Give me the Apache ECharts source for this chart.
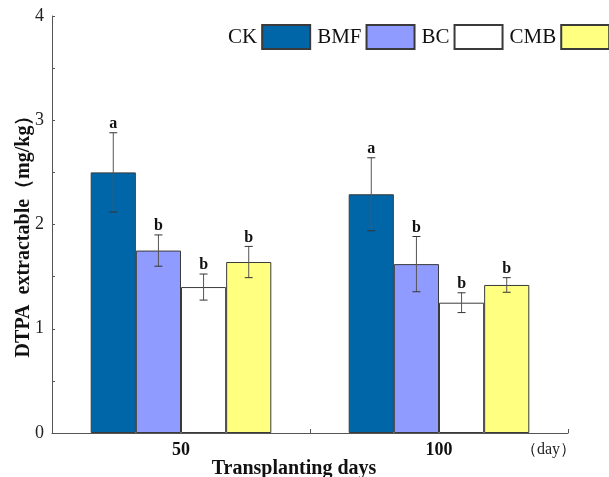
<!DOCTYPE html>
<html><head><meta charset="utf-8">
<script src="https://cdn.jsdelivr.net/npm/echarts@6/dist/echarts.min.js"></script>
<style>html,body{margin:0;padding:0;background:#fff}#c{width:609px;height:477px}</style>
</head><body><div id="c"></div>
<script>
const categories = ['50', '100'];
const seriesNames = ['CK', 'BMF', 'BC', 'CMB'];
const ckValues = [2.50, 2.29];
const bmfValues = [1.75, 1.62];
const bcValues = [1.40, 1.25];
const cmbValues = [1.64, 1.42];
const ckErrors = [0.38, 0.35];
const bmfErrors = [0.15, 0.265];
const bcErrors = [0.125, 0.095];
const cmbErrors = [0.15, 0.07];
const ckLetters = ['a', 'a'];
const bmfLetters = ['b', 'b'];
const bcLetters = ['b', 'b'];
const cmbLetters = ['b', 'b'];
const yTicks = [0, 1, 2, 3, 4];

const values = [ckValues, bmfValues, bcValues, cmbValues];
const errors = [ckErrors, bmfErrors, bcErrors, cmbErrors];
const letters = [ckLetters, bmfLetters, bcLetters, cmbLetters];
const colors = ['#0066A8', '#8F9BFF', '#FFFFFF', '#FFFF80'];
const serif = '"Liberation Serif", "Times New Roman", serif';
const CAT_GAP = 0.30;

const series = [];
seriesNames.forEach((name, i) => {
  series.push({
    name: name, type: 'bar', data: values[i],
    barGap: '0%', barCategoryGap: (CAT_GAP * 100) + '%',
    itemStyle: { color: colors[i], borderColor: '#3a3a3a', borderWidth: 1 },
    emphasis: { disabled: true }
  });
});
seriesNames.forEach((name, i) => {
  series.push({
    type: 'custom', name: name + '_err', silent: true, z: 5,
    data: values[i].map((v, j) => [j, v, errors[i][j], letters[i][j]]),
    renderItem: function (params, api) {
      const x = api.value(0), v = api.value(1), e = api.value(2), t = api.value(3);
      const band = api.size([1, 0])[0];
      const bw = band * (1 - CAT_GAP) / 4;
      const c = api.coord([x, v]);
      const cx = c[0] + (i - 1.5) * bw;
      const top = api.coord([x, v + e])[1];
      const bot = api.coord([x, v - e])[1];
      const hw = 4;
      const st = { stroke: '#333', lineWidth: 1 };
      return { type: 'group', children: [
        { type: 'line', shape: { x1: cx, y1: top, x2: cx, y2: bot }, style: { stroke: '#555', lineWidth: 1 } },
        { type: 'line', shape: { x1: cx - hw, y1: top, x2: cx + hw, y2: top }, style: st },
        { type: 'line', shape: { x1: cx - hw, y1: bot, x2: cx + hw, y2: bot }, style: st },
        { type: 'text', style: { x: cx, y: top - 1, text: t, textAlign: 'center', textVerticalAlign: 'bottom',
          font: 'bold 16px ' + serif, fill: '#111' } }
      ]};
    }
  });
});

const chart = echarts.init(document.getElementById('c'));
chart.setOption({
  animation: false,
  backgroundColor: '#fff',
  grid: { left: 52, right: 41, top: 16, bottom: 44, containLabel: false, outerBoundsMode: 'none' },
  legend: {
    data: seriesNames, left: 228, top: 24, width: 560, align: 'right',
    icon: 'rect', itemWidth: 48, itemHeight: 24, itemGap: 6, padding: 0,
    selectedMode: false,
    textStyle: { fontFamily: serif, fontSize: 21, color: '#111' }
  },
  xAxis: {
    type: 'category', data: categories,
    name: 'Transplanting days', nameLocation: 'middle', nameGap: 26, nameMoveOverlap: false,
    nameTextStyle: { fontFamily: serif, fontSize: 20, fontWeight: 'bold', color: '#111', padding: [0, 32, 0, 0] },
    axisLine: { lineStyle: { color: '#555', width: 1 } },
    axisTick: { show: true, inside: true, length: 4, lineStyle: { color: '#555' } },
    axisLabel: { margin: 8, fontFamily: serif, fontSize: 18, fontWeight: 'bold', color: '#111' }
  },
  yAxis: {
    type: 'value', min: 0, max: 4, interval: 1,
    name: 'DTPA  extractable（mg/kg）', nameLocation: 'middle', nameGap: 18, nameMoveOverlap: false,
    nameTextStyle: { fontFamily: serif, fontSize: 20, fontWeight: 'bold', color: '#111', padding: [0, 14, 0, 0] },
    axisLine: { show: true, lineStyle: { color: '#555', width: 1 } },
    axisTick: { show: true, inside: true, length: 3, lineStyle: { color: '#555' } },
    minorTick: { show: true, splitNumber: 2, length: 3, lineStyle: { color: '#555' } },
    splitLine: { show: false },
    axisLabel: { margin: 8, fontFamily: serif, fontSize: 18, color: '#222',
      formatter: v => yTicks.indexOf(v) >= 0 ? String(v) : '' }
  },
  graphic: [{
    type: 'text', left: 521, top: 442,
    style: { text: '（day）', font: '16px ' + serif, fill: '#222' }
  }],
  series: series
});
</script></body></html>
